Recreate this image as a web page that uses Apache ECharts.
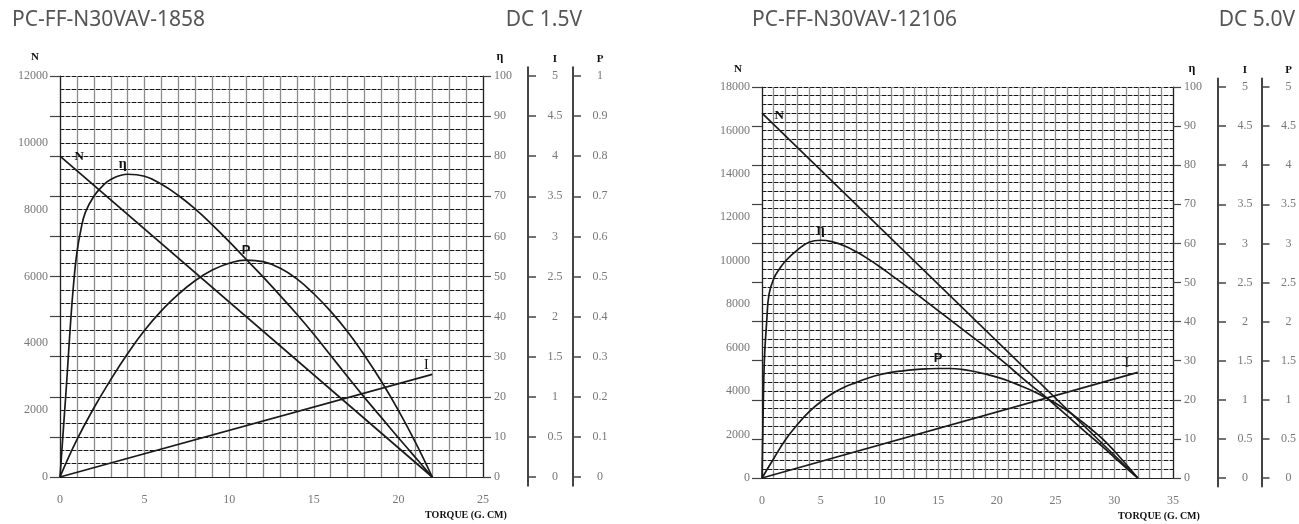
<!DOCTYPE html>
<html><head><meta charset="utf-8">
<script src="https://cdn.jsdelivr.net/npm/echarts@6/dist/echarts.min.js"></script>
<style>html,body{margin:0;padding:0;background:#fff}#c{width:1299px;height:524px}</style>
</head><body><div id="c"></div><script>
// ---------- Left motor: PC-FF-N30VAV-1858, DC 1.5V ----------
const L_title = 'PC-FF-N30VAV-1858';
const L_volt = 'DC 1.5V';
const L_N_torque = [0, 22];
const L_N_speed = [9600, 0];
const L_I_torque = [0, 22];
const L_I_current = [0, 1.28];
const L_eff_torque = [0,0.1,0.25,0.4,0.6,0.8,1,1.25,1.5,2,2.5,3,4,5,6,7,8,9,10,11,12,13,14,15,16,17,18,19,20,21,22];
const L_eff = [0,6,15,24,37,48,56,62,66,70,72.5,74.2,75.5,75,73,70.2,66.8,62.9,58.7,54.3,49.9,45.3,40.6,35.6,30.3,25,19.8,14.8,9.8,4.9,0];
const L_P_torque = [0,1,2,3,4,5,6,7,8,9,10,11,12,13,14,15,16,17,18,19,20,21,22];
const L_P = [0,0.093,0.172,0.243,0.308,0.366,0.415,0.456,0.49,0.516,0.533,0.541,0.537,0.521,0.494,0.457,0.413,0.362,0.303,0.238,0.166,0.087,0];
const L_xTicks = [0,5,10,15,20,25];
const L_nLabels = [0,2000,4000,6000,8000,10000,12000];
const L_nTicks = [0,1200,2400,3600,4800,6000,7200,8400,9600,10800,12000];
const L_effTicks = [0,10,20,30,40,50,60,70,80,90,100];
const L_iTicks = [0,0.5,1,1.5,2,2.5,3,3.5,4,4.5,5];
const L_pTicks = [0,0.1,0.2,0.3,0.4,0.5,0.6,0.7,0.8,0.9,1];

// ---------- Right motor: PC-FF-N30VAV-12106, DC 5.0V ----------
const R_title = 'PC-FF-N30VAV-12106';
const R_volt = 'DC 5.0V';
const R_N_torque = [0, 32];
const R_N_speed = [16800, 0];
const R_I_torque = [0, 32];
const R_I_current = [0, 1.35];
const R_eff_torque = [0,0.1,0.2,0.4,0.6,1,1.5,2,3,4,5,6,7,8,9,10,11,12,13,14,15,16,17,18,19,20,21,22,23,24,25,26,27,28,29,30,31,32];
const R_eff = [0,17,30,40,47,51,53.5,55.5,58.3,60.3,60.8,60.4,59.4,57.9,56.1,54.1,51.9,49.7,47.4,45.1,42.8,40.5,38.2,35.9,33.6,31.1,28.6,26,23.5,21.1,18.5,15.9,13.2,10.6,8,5.3,2.6,0];
const R_P_torque = [0,1,2,3,4,5,6,7,8,9,10,11,12,13,14,15,16,17,18,19,20,21,22,23,24,25,26,27,28,29,30,31,32];
const R_P = [0,0.25,0.49,0.68,0.845,0.975,1.08,1.16,1.22,1.275,1.32,1.35,1.37,1.385,1.395,1.4,1.4,1.39,1.365,1.33,1.29,1.24,1.18,1.115,1.04,0.955,0.86,0.75,0.63,0.5,0.345,0.175,0];
const R_xTicks = [0,5,10,15,20,25,30,35];
const R_nLabels = [0,2000,4000,6000,8000,10000,12000,14000,16000,18000];
const R_nTicks = [0,1800,3600,5400,7200,9000,10800,12600,14400,16200,18000];
const R_effTicks = [0,10,20,30,40,50,60,70,80,90,100];
const R_iTicks = [0,0.5,1,1.5,2,2.5,3,3.5,4,4.5,5];
const R_pTicks = [0,0.5,1,1.5,2,2.5,3,3.5,4,4.5,5];

const zip = (a, b) => a.map((v, i) => [v, b[i]]);
const maxIdx = arr => arr.indexOf(Math.max(...arr));
const plain = v => String(v);

const SERIF = 'Liberation Serif';
const tickLabel = () => ({color:'#777', fontFamily:SERIF, fontSize:12, formatter:plain});
const axisName = () => ({color:'#111', fontFamily:SERIF, fontWeight:'bold', fontSize:11});
const off = () => ({show:false});

const grids = [], xAxes = [], yAxes = [], series = [];

function panel(p) {
  const g = grids.length;
  const ext = 0.022;
  const nMax = p.nLabels[p.nLabels.length-1];
  const iMax = p.iTicks[p.iTicks.length-1], pMax = p.pTicks[p.pTicks.length-1];
  grids.push({left:p.left, top:p.top, width:p.width, height:p.height});
  const sideTop = p.top - ext*p.height, sideH = p.height*(1+2*ext);
  grids.push({left:p.left + p.width + p.iOff - 4, top:sideTop, width:4, height:sideH});
  grids.push({left:p.left + p.width + p.pOff - 4, top:sideTop, width:4, height:sideH});

  const xi = xAxes.length;
  xAxes.push({gridIndex:g, type:'value', position:'bottom', min:0, max:p.xMax, interval:1,
    axisLine:{show:true, onZero:false, lineStyle:{color:'#222', width:1.2}}, axisTick:off(),
    axisLabel:{customValues:p.xTicks, margin:17, ...tickLabel()},
    splitLine:{show:true, lineStyle:{color:'#8c8c8c', width:1.3, opacity:1}},
    name:'TORQUE (G. CM)', nameLocation:'end', nameGap:p.torqueGap,
    nameTextStyle:{color:'#111', fontFamily:SERIF, fontWeight:'bold', fontSize:10, align:'center', verticalAlign:'top', padding:[33,0,0,0]}});
  xAxes.push({gridIndex:g+1, type:'value', min:0, max:1, show:false});
  xAxes.push({gridIndex:g+2, type:'value', min:0, max:1, show:false});

  const yi = yAxes.length;
  yAxes.push({gridIndex:g, type:'value', position:'left', min:0, max:nMax,
    axisLine:{show:true, onZero:false, lineStyle:{color:'#222', width:1.2}},
    axisTick:{show:true, customValues:p.nTicks, length:10, lineStyle:{color:'#444', width:1.2}},
    axisLabel:{customValues:p.nLabels, margin:12, ...tickLabel()},
    splitLine:off(),
    name:'N', nameLocation:'end', nameGap:p.nameGap, nameTextStyle:{...axisName(), padding:p.nPad}});
  yAxes.push({gridIndex:g, type:'value', position:'right', min:0, max:100,
    axisLine:{show:true, onZero:false, lineStyle:{color:'#222', width:1.2}},
    axisTick:{show:true, customValues:p.effTicks, length:8, lineStyle:{color:'#444', width:1.2}},
    axisLabel:{customValues:p.effTicks, margin:11, ...tickLabel()},
    splitLine:off(),
    name:'η', nameLocation:'end', nameGap:p.nameGap, nameTextStyle:{...axisName(), fontSize:12, padding:p.etaPad}});
  // horizontal grid lines every 400 rpm: grey solid under dark dashes
  const gridAxis = ls => ({gridIndex:g, type:'value', position:'left', min:0, max:nMax, interval:400,
    axisLine:{show:false, onZero:false}, axisTick:off(), axisLabel:off(), splitLine:{show:true, lineStyle:ls}});
  yAxes.push(gridAxis({color:'#a0a0a0', width:1}));
  yAxes.push(gridAxis({color:'#151515', width:1, type:[4,2]}));
  yAxes.push({gridIndex:g, type:'value', min:0, max:iMax, show:false});
  yAxes.push({gridIndex:g, type:'value', min:0, max:pMax, show:false});
  const side = (gi, ticks, mx, nm) => ({gridIndex:gi, type:'value', position:'right',
    min:-ext*mx, max:mx*(1+ext),
    axisLine:{show:true, onZero:false, lineStyle:{color:'#444', width:2}},
    axisTick:{show:true, customValues:ticks, length:8, lineStyle:{color:'#444', width:1.5}},
    axisLabel:{customValues:ticks, margin:27, align:'center', ...tickLabel()},
    splitLine:off(),
    name:nm, nameLocation:'end', nameGap:p.sideGap, nameTextStyle:{...axisName(), padding:[0,0,0,54]}});
  yAxes.push(side(g+1, p.iTicks, iMax, 'I'));
  yAxes.push(side(g+2, p.pTicks, pMax, 'P'));

  const lbl = (txt, extra) => ({show:true, formatter:txt, color:'#111', fontFamily:SERIF, fontWeight:'bold', fontSize:13, ...extra});
  const base = () => ({type:'line', xAxisIndex:xi, showSymbol:true, showAllSymbol:true, symbol:'circle', symbolSize:1,
    itemStyle:{color:'rgba(0,0,0,0)'}, lineStyle:{color:'#1a1a1a', width:1.7}, silent:true, z:5});
  const withLabel = (pts, idx, label) => pts.map((d, i) => i === idx ? {value:d, label} : d);

  series.push({...base(), yAxisIndex:yi, data:withLabel(zip(p.N_t, p.N_v), 0, lbl('N', {position:'right', distance:p.nLabDist, offset:p.nLabOff}))});
  series.push({...base(), yAxisIndex:yi+1, smooth:0.45, data:withLabel(zip(p.E_t, p.E_v), maxIdx(p.E_v), lbl('η', {position:'top', distance:2, offset:p.etaLabOff, fontSize:14}))});
  series.push({...base(), yAxisIndex:yi+5, smooth:0.45, data:withLabel(zip(p.P_t, p.P_v), maxIdx(p.P_v), lbl('P', {position:'top', distance:3, fontFamily:'Liberation Sans', fontSize:13}))});
  series.push({...base(), yAxisIndex:yi+4, data:withLabel(zip(p.I_t, p.I_v), p.I_t.length-1, lbl('I', {position:'top', distance:2, offset:p.iLabOff, fontWeight:'normal', fontSize:14}))});
}

panel({left:60, top:76, width:423, height:401, xMax:25, xTicks:L_xTicks, nLabels:L_nLabels, nTicks:L_nTicks,
  effTicks:L_effTicks, iTicks:L_iTicks, pTicks:L_pTicks, iOff:45, pOff:90, torqueGap:-17,
  nameGap:13, sideGap:3, nPad:[0,50,0,0], etaPad:[0,0,0,34],
  N_t:L_N_torque, N_v:L_N_speed, E_t:L_eff_torque, E_v:L_eff, P_t:L_P_torque, P_v:L_P, I_t:L_I_torque, I_v:L_I_current,
  nLabDist:14, nLabOff:[0,0], etaLabOff:[-5,0], iLabOff:[-6,0]});
panel({left:762, top:87, width:411, height:391, xMax:35, xTicks:R_xTicks, nLabels:R_nLabels, nTicks:R_nTicks,
  effTicks:R_effTicks, iTicks:R_iTicks, pTicks:R_pTicks, iOff:45, pOff:89, torqueGap:-14,
  nameGap:12, sideGap:3, nPad:[0,48,0,0], etaPad:[0,0,0,38],
  N_t:R_N_torque, N_v:R_N_speed, E_t:R_eff_torque, E_v:R_eff, P_t:R_P_torque, P_v:R_P, I_t:R_I_torque, I_v:R_I_current,
  nLabDist:12, nLabOff:[0,3], etaLabOff:[0,0], iLabOff:[-11,0]});

const titleStyle = {fontFamily:'Noto Sans', fontSize:21, fontWeight:'normal', color:'#555'};
const chart = echarts.init(document.getElementById('c'), null, {renderer:'canvas'});
chart.setOption({
  backgroundColor:'#fff',
  animation:false,
  title:[
    {text:L_title, left:12, top:10, padding:0, textStyle:{...titleStyle}},
    {text:L_volt, right:717, top:10, padding:0, textStyle:{...titleStyle}},
    {text:R_title, left:752, top:10, padding:0, textStyle:{...titleStyle}},
    {text:R_volt, right:4, top:10, padding:0, textStyle:{...titleStyle}}
  ],
  grid:grids, xAxis:xAxes, yAxis:yAxes, series:series
});
</script></body></html>
